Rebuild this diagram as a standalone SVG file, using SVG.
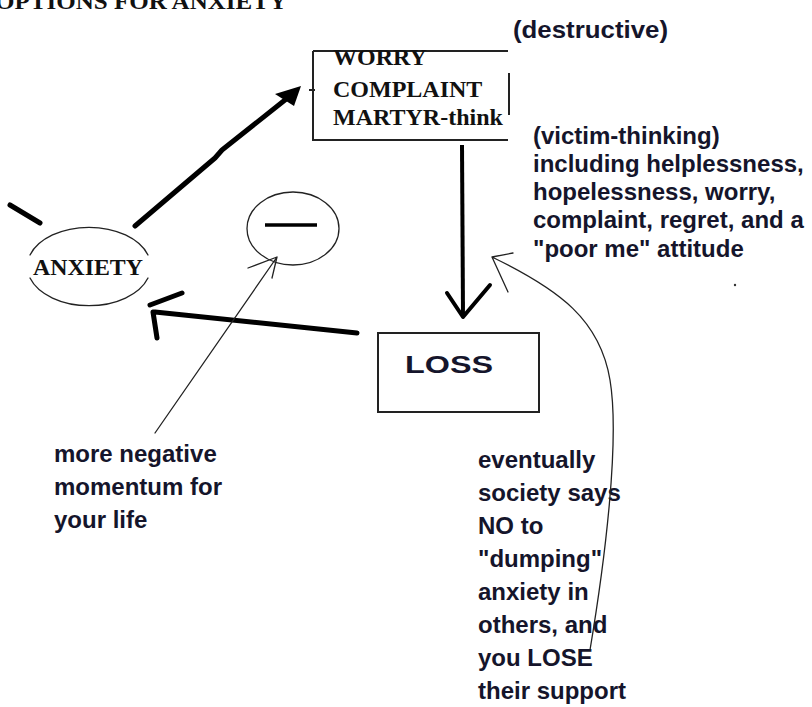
<svg xmlns="http://www.w3.org/2000/svg" width="812" height="707" viewBox="0 0 812 707">
<style>
.serif{font-family:"Liberation Serif","Times New Roman",serif;font-weight:bold;fill:#111;}
.sans{font-family:"Liberation Sans",Arial,sans-serif;font-weight:bold;font-size:24px;fill:#15152b;}
.thick{fill:none;stroke:#000;stroke-width:5;stroke-linecap:round;stroke-linejoin:round;}
.thin{fill:none;stroke:#222;stroke-width:1.3;stroke-linecap:round;}
.box{fill:none;stroke:#222;stroke-width:2;}
</style>
<defs>
<clipPath id="clipW"><rect x="300" y="40" width="207" height="110"/></clipPath>
</defs>
<rect width="812" height="707" fill="#fff"/>
<text class="serif" x="-5" y="9" font-size="24" textLength="292" lengthAdjust="spacingAndGlyphs">OPTIONS FOR ANXIETY</text>
<text class="sans" x="513" y="38" font-size="25" textLength="155" lengthAdjust="spacingAndGlyphs">(destructive)</text>

<g id="worry">
<path class="box" d="M313,51 H508 M313,51 V140 H508 M509,73 V115 M309,90 H315"/>
<g clip-path="url(#clipW)">
<text class="serif" x="333" y="65" font-size="24">WORRY</text>
<text class="serif" x="333" y="97" font-size="24">COMPLAINT</text>
<text class="serif" x="333" y="125" font-size="24">MARTYR-think</text>
</g>
</g>

<g id="anxiety">
<path class="thin" d="M30,255 A62,40 0 0 1 148,255 M30,278 A62,40 0 0 0 148,278"/>
<text class="serif" x="33" y="275" font-size="24" textLength="110" lengthAdjust="spacingAndGlyphs">ANXIETY</text>
</g>

<g id="minus">
<ellipse cx="293" cy="228.5" rx="46" ry="36.5" fill="none" stroke="#222" stroke-width="1.3"/>
<path d="M265,225 H317" stroke="#000" stroke-width="3.5"/>
</g>

<g id="loss">
<rect class="box" x="378" y="333" width="161" height="79"/>
<text class="sans" x="405" y="373" font-size="33" textLength="88" lengthAdjust="spacingAndGlyphs">LOSS</text>
</g>

<g id="victim-text">
<text class="sans" x="533" y="143.5">(victim-thinking)</text>
<text class="sans" x="533" y="172">including helplessness,</text>
<text class="sans" x="533" y="200">hopelessness, worry,</text>
<text class="sans" x="533" y="228">complaint, regret, and a</text>
<text class="sans" x="533" y="257">"poor me" attitude</text>
</g>

<g id="momentum-text">
<text class="sans" x="54" y="462">more negative</text>
<text class="sans" x="54" y="495">momentum for</text>
<text class="sans" x="54" y="528">your life</text>
</g>

<g id="society-text">
<text class="sans" x="478" y="468">eventually</text>
<text class="sans" x="478" y="501">society says</text>
<text class="sans" x="478" y="534">NO to</text>
<text class="sans" x="478" y="567">"dumping"</text>
<text class="sans" x="478" y="600">anxiety in</text>
<text class="sans" x="478" y="633">others, and</text>
<text class="sans" x="478" y="666">you LOSE</text>
<text class="sans" x="478" y="699">their support</text>
</g>

<g id="connectors">
<path class="thick" d="M10,205 L40,223"/>
<path class="thick" d="M135,226 L215,158 L222,150 L290,96"/>
<polygon points="301,86 275,94 294,106" fill="#000"/>
<path class="thick" d="M357,333 L155,312 M150,305 L182,293 M153,312 L157,338"/>
<path d="M462,145 L463,315" stroke="#000" stroke-width="4" fill="none"/>
<path class="thick" style="stroke-width:4" d="M447,293 L463,317 L490,285"/>
<path class="thin" d="M155,433 L277,257 M277,257 L248,268 M277,257 L272,278"/>
<path class="thin" d="M492,257 C560,290 600,320 610,380 C620,440 605,560 590,650 M492,257 L513,253 M492,257 L508,292"/>
<circle cx="735" cy="285" r="1.2" fill="#333"/>
</g>
</svg>
